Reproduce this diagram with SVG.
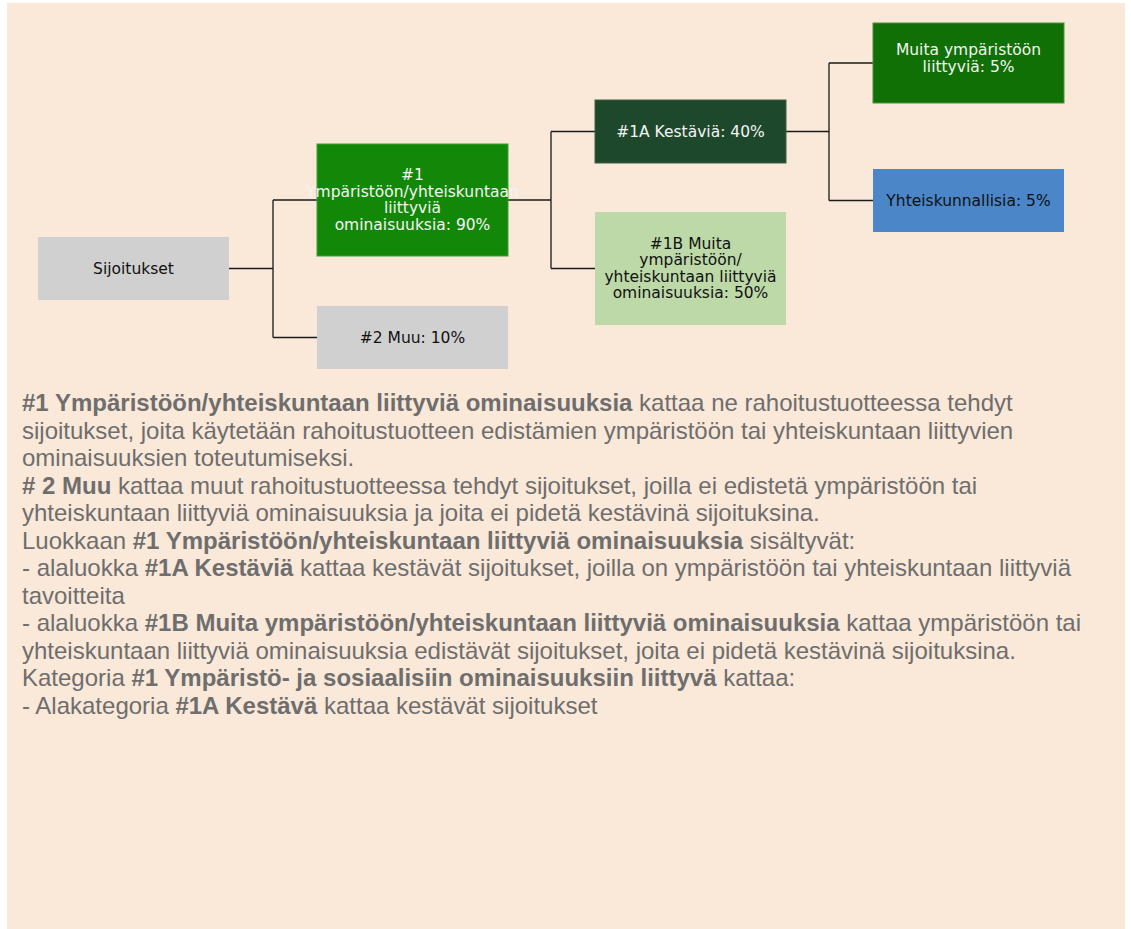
<svg xmlns="http://www.w3.org/2000/svg" width="1131" height="929" viewBox="0 0 1131 929">
<style>
.node text{font-family:"DejaVu Sans",Verdana,sans-serif;font-size:15.5px;text-anchor:middle}
.lt{fill:#F4F4F4}
.dk{fill:#111111}
.edge{fill:none;stroke:#1A1A1A;stroke-width:1.3}
.para{font-family:"Liberation Sans",Arial,sans-serif;font-size:24px;fill:#6E6E6E}
.b{font-weight:bold}
.box{stroke-width:1}
</style>
<rect x="0" y="0" width="1131" height="929" fill="#FFFFFF"/>
<rect x="7" y="3" width="1118" height="926" fill="#FAE8D8"/>
<g id="connectors">
<path class="edge" d="M229,268.5 H273 M273,200 V337.5 M273,200 H317 M273,337.5 H317"/>
<path class="edge" d="M508,200 H551 M551,131.5 V268.5 M551,131.5 H595 M551,268.5 H595"/>
<path class="edge" d="M786,131.5 H829 M829,63 V200.5 M829,63 H873 M829,200.5 H873"/>
</g>
<g id="node-sijoitukset" class="node">
<rect x="38" y="237" width="191" height="63" fill="#D0D0D0"/>
<text class="dk" x="133.5" y="273.5">Sijoitukset</text>
</g>
<g id="node-1" class="node">
<rect x="317" y="144" width="191" height="112" fill="#138808" stroke="#3FA035" stroke-width="1"/>
<text class="lt" x="412.5" y="180">#1</text>
<text class="lt" x="412.5" y="196.5">Ympäristöön/yhteiskuntaan</text>
<text class="lt" x="412.5" y="213">liittyviä</text>
<text class="lt" x="412.5" y="229.5">ominaisuuksia: 90%</text>
</g>
<g id="node-2" class="node">
<rect x="317" y="306" width="191" height="63" fill="#D0D0D0"/>
<text class="dk" x="412.5" y="343">#2 Muu: 10%</text>
</g>
<g id="node-1a" class="node">
<rect x="595" y="100" width="191" height="63" fill="#1E482C" stroke="#3A6046" stroke-width="1"/>
<text class="lt" x="690.5" y="137">#1A Kestäviä: 40%</text>
</g>
<g id="node-1b" class="node">
<rect x="595" y="212" width="191" height="113" fill="#BDD9A7"/>
<text class="dk" x="690.5" y="248.5">#1B Muita</text>
<text class="dk" x="690.5" y="265">ympäristöön/</text>
<text class="dk" x="690.5" y="281.5">yhteiskuntaan liittyviä</text>
<text class="dk" x="690.5" y="298">ominaisuuksia: 50%</text>
</g>
<g id="node-muita" class="node">
<rect x="873" y="23" width="191" height="80" fill="#107005" stroke="#4A9040" stroke-width="1"/>
<text class="lt" x="968.5" y="55">Muita ympäristöön</text>
<text class="lt" x="968.5" y="71.5">liittyviä: 5%</text>
</g>
<g id="node-yhteisk" class="node">
<rect x="873" y="169" width="191" height="63" fill="#4A86C8"/>
<text class="dk" x="968.5" y="206">Yhteiskunnallisia: 5%</text>
</g>
<g id="description" class="para">
<text x="22" y="411"><tspan class="b">#1 Ympäristöön/yhteiskuntaan liittyviä ominaisuuksia</tspan> kattaa ne rahoitustuotteessa tehdyt</text>
<text x="22" y="438.5">sijoitukset, joita käytetään rahoitustuotteen edistämien ympäristöön tai yhteiskuntaan liittyvien</text>
<text x="22" y="466">ominaisuuksien toteutumiseksi.</text>
<text x="22" y="493.5"><tspan class="b"># 2 Muu</tspan> kattaa muut rahoitustuotteessa tehdyt sijoitukset, joilla ei edistetä ympäristöön tai</text>
<text x="22" y="521">yhteiskuntaan liittyviä ominaisuuksia ja joita ei pidetä kestävinä sijoituksina.</text>
<text x="22" y="548.5">Luokkaan <tspan class="b">#1 Ympäristöön/yhteiskuntaan liittyviä ominaisuuksia</tspan> sisältyvät:</text>
<text x="22" y="576">- alaluokka <tspan class="b">#1A Kestäviä</tspan> kattaa kestävät sijoitukset, joilla on ympäristöön tai yhteiskuntaan liittyviä</text>
<text x="22" y="603.5">tavoitteita</text>
<text x="22" y="631">- alaluokka <tspan class="b">#1B Muita ympäristöön/yhteiskuntaan liittyviä ominaisuuksia</tspan> kattaa ympäristöön tai</text>
<text x="22" y="658.5">yhteiskuntaan liittyviä ominaisuuksia edistävät sijoitukset, joita ei pidetä kestävinä sijoituksina.</text>
<text x="22" y="686">Kategoria <tspan class="b">#1 Ympäristö- ja sosiaalisiin ominaisuuksiin liittyvä</tspan> kattaa:</text>
<text x="22" y="713.5">- Alakategoria <tspan class="b">#1A Kestävä</tspan> kattaa kestävät sijoitukset</text>
</g>
</svg>
